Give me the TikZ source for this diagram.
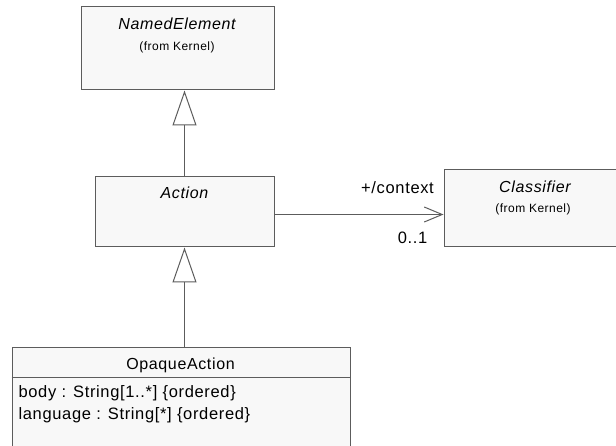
\documentclass[tikz,border=0pt]{standalone}
\usepackage{fontspec}
\setmainfont{Liberation Sans}[LetterSpace=4]
\usetikzlibrary{arrows.meta,positioning,calc}
\definecolor{BoxFill}{HTML}{F8F8F8}
\definecolor{BoxLine}{HTML}{5C5C5C}

\begin{document}
\begin{tikzpicture}[x=1pt,y=-1pt,>=Latex,
umlbox/.style={draw=BoxLine,fill=BoxFill,line width=1pt,inner sep=0pt},
ttl/.style={anchor=base,font=\fontsize{16}{19}\selectfont},
ittl/.style={anchor=base,font=\fontsize{16}{19}\selectfont\itshape},
frm/.style={anchor=base,font=\fontsize{12}{14}\selectfont},
attr/.style={anchor=base west,font=\fontsize{16.5}{19}\selectfont},
lbl/.style={anchor=base,font=\fontsize{16.5}{19}\selectfont},
gen/.style={draw=BoxLine,line width=1pt,-{Triangle[open,length=35pt,width=24pt]}},
assoc/.style={draw=BoxLine,line width=1pt,-{Straight Barb[length=18pt,width=15pt]}}]
\useasboundingbox (0,0) rectangle (616,446);
\clip (0,0) rectangle (616,446);
% classes
\node[umlbox,minimum width=193pt,minimum height=83pt](named)at(177.5,48.5){};
\node[umlbox,minimum width=179pt,minimum height=70pt](action)at(184.5,212){};
\node[umlbox,minimum width=186pt,minimum height=77pt](classifier)at(537,208.5){};
\node[umlbox,minimum width=338pt,minimum height=120pt](opaque)at(181,408){};
\draw[BoxLine,line width=1pt]($(opaque.north west)+(0,30)$)--($(opaque.north east)+(0,30)$);
% names
\node[ittl](namedT)at(177,30){NamedElement};
\node[frm](namedF)at(177,50.5){(from Kernel)};
\node[ittl](actionT)at(184.5,198.5){Action};
\node[ittl](classifierT)at(535,192.5){Classifier};
\node[frm](classifierF)at(533,213){(from Kernel)};
\node[ttl](opaqueT)at(180.5,369.5){OpaqueAction};
\node[attr](bodyA)at(15,397.5){body : String[1..*] {\char`\{}ordered{\char`\}}};
\node[attr](langA)at(15,419){language : String[*] {\char`\{}ordered{\char`\}}};
% relations
\draw[gen](action.north)--(action.north |- named.south);
\draw[gen](action.south |- opaque.north)--(action.south);
\draw[assoc]($(action.east)+(0,2.5)$)--($(action.east -| classifier.west)+(0,2.5)$)
node[lbl,at end,xshift=-46pt,yshift=21pt]{+/context}
node[lbl,at end,xshift=-31pt,yshift=-29pt]{0..1};
\end{tikzpicture}
\end{document}
